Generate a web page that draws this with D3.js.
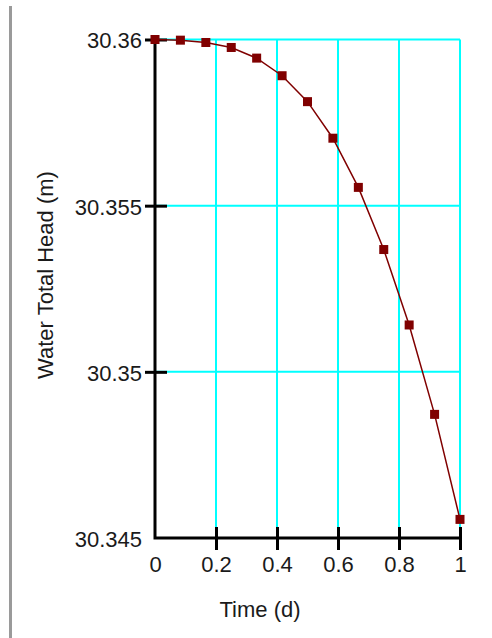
<!DOCTYPE html>
<html>
<head>
<meta charset="utf-8">
<script src="https://cdn.jsdelivr.net/npm/d3@7"></script>
<style>
  html, body { margin: 0; padding: 0; background: #fff; }
  svg { display: block; }
  .tick text { font-family: "Liberation Sans", Arial, sans-serif; font-size: 22px; fill: #1a1a1a; }
  .axis-title { font-family: "Liberation Sans", Arial, sans-serif; font-size: 22px; fill: #1a1a1a; }
</style>
</head>
<body>
<div id="chart"></div>
<script>
// Water total head vs time
const timeDays = [0, 0.0833, 0.1667, 0.25, 0.3333, 0.4167, 0.5, 0.5833, 0.6667, 0.75, 0.8333, 0.9167, 1];
const totalHead = [30.36, 30.35998, 30.35991, 30.35976, 30.35944, 30.35891, 30.35813, 30.35703, 30.35555, 30.35368, 30.35141, 30.34872, 30.34556];

const xTicks = [0, 0.2, 0.4, 0.6, 0.8, 1];
const xTickLabels = ['0', '0.2', '0.4', '0.6', '0.8', '1'];
const yTicks = [30.345, 30.35, 30.355, 30.36];
const yTickLabels = ['30.345', '30.35', '30.355', '30.36'];

const W = 492, H = 638;
const plotLeft = 155, plotRight = 460, plotTop = 39.5, plotBottom = 538;

const svg = d3.select('#chart').append('svg')
    .attr('width', W)
    .attr('height', H);

const x = d3.scaleLinear().domain([0, 1]).range([plotLeft, plotRight]);
const y = d3.scaleLinear().domain([30.345, 30.36]).range([plotBottom, plotTop]);

// grey bar on the far left
svg.append('line')
    .attr('x1', 10.5).attr('x2', 10.5)
    .attr('y1', 6).attr('y2', H)
    .attr('stroke', '#9a9a9a')
    .attr('stroke-width', 3);

// grid
const grid = svg.append('g');
xTicks.filter(t => t > 0).forEach(t => {
    grid.append('line')
        .attr('x1', x(t)).attr('x2', x(t))
        .attr('y1', y(30.36)).attr('y2', plotBottom)
        .attr('stroke', '#00ffff')
        .attr('stroke-width', 2);
});
yTicks.filter(t => t > 30.345).forEach(t => {
    grid.append('line')
        .attr('x1', plotLeft).attr('x2', x(1))
        .attr('y1', y(t)).attr('y2', y(t))
        .attr('stroke', '#00ffff')
        .attr('stroke-width', 2);
});

// axes
const xAxis = d3.axisBottom(x)
    .tickValues(xTicks)
    .tickSize(12)
    .tickPadding(7)
    .tickFormat((d, i) => xTickLabels[i]);
const gx = svg.append('g')
    .attr('transform', `translate(0,${plotBottom})`)
    .call(xAxis);
gx.select('.domain').remove();
gx.selectAll('.tick line')
    .attr('y1', -11)
    .attr('stroke', '#000')
    .attr('stroke-width', 3)
    .filter(d => d === 0).remove();
gx.selectAll('.tick text').attr('dy', '0.68em');

const yAxis = d3.axisLeft(y)
    .tickValues(yTicks)
    .tickSize(10)
    .tickPadding(3)
    .tickFormat((d, i) => yTickLabels[i]);
const gy = svg.append('g')
    .attr('transform', `translate(${plotLeft},0)`)
    .call(yAxis);
gy.select('.domain').remove();
gy.selectAll('.tick line')
    .attr('x1', 12)
    .attr('stroke', '#000')
    .attr('stroke-width', 3)
    .filter(d => d === 30.345).remove();
gy.selectAll('.tick text').attr('dy', '0.38em');

// axis lines
svg.append('path')
    .attr('d', `M${plotLeft},${plotTop}V${plotBottom}H${plotRight}`)
    .attr('fill', 'none')
    .attr('stroke', '#000')
    .attr('stroke-width', 3);

// series
const line = d3.line()
    .x((d, i) => x(timeDays[i]))
    .y(d => y(d));

svg.append('path')
    .datum(totalHead)
    .attr('d', line)
    .attr('fill', 'none')
    .attr('stroke', '#800000')
    .attr('stroke-width', 1.5);

const ms = 9;
svg.selectAll('rect.marker')
    .data(totalHead)
    .enter().append('rect')
    .attr('class', 'marker')
    .attr('x', (d, i) => x(timeDays[i]) - ms / 2)
    .attr('y', d => y(d) - ms / 2)
    .attr('width', ms)
    .attr('height', ms)
    .attr('fill', '#800000');

// titles
svg.append('text')
    .attr('class', 'axis-title')
    .attr('x', 260)
    .attr('y', 617)
    .attr('text-anchor', 'middle')
    .text('Time (d)');

svg.append('text')
    .attr('class', 'axis-title')
    .attr('transform', 'translate(53,275) rotate(-90)')
    .attr('text-anchor', 'middle')
    .text('Water Total Head (m)');
</script>
</body>
</html>
